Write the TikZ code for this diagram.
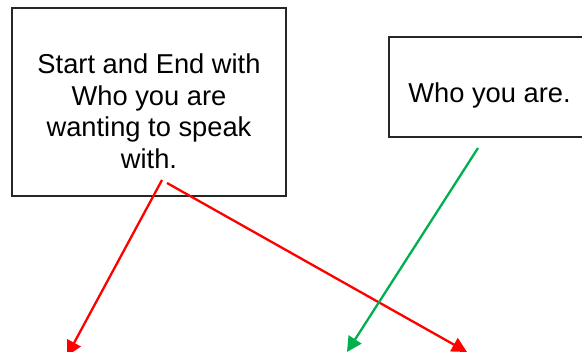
\documentclass[tikz,border=0pt]{standalone}
\usepackage{fontspec}
\setmainfont{Liberation Sans}
\usetikzlibrary{arrows.meta}
\begin{document}
\begin{tikzpicture}[x=1pt,y=-1pt,
  box/.style={draw=black!85, line width=2pt, inner sep=0pt, fill=white},
  boxtext/.style={font=\fontsize{27.3}{31.5}\selectfont, align=center, inner sep=0pt},
  pointer/.style={line width=2.3pt, -{Triangle[length=15pt,width=15pt]}},
  redpointer/.style={pointer, color=red},
  greenpointer/.style={pointer, color={rgb,255:red,0;green,176;blue,80}}]
\useasboundingbox (0,0) rectangle (582,352);
\clip (0,0) rectangle (582,352);

% the two boxes
\node[box, minimum width=274pt, minimum height=188pt] (target) at (149,102) {};
\node[boxtext] (targettext) at (149,111)
  {Start and End with\\Who you are\\wanting to speak\\with.};
\node[box, minimum width=201pt, minimum height=100pt] (self) at (489.5,87) {};
\node[boxtext] (selftext) at (489.5,95) {Who you are.};

% arrow tails and tips
\coordinate (r1s) at (162,180);
\coordinate (r1e) at (67,356);
\coordinate (r2s) at (167,183);
\coordinate (r2e) at (467,352);
\coordinate (gs) at (478,148);
\coordinate (ge) at (347,352);

\draw[redpointer] (r1s) -- (r1e);
\draw[redpointer] (r2s) -- (r2e);
\draw[greenpointer] (gs) -- (ge);
\end{tikzpicture}
\end{document}
